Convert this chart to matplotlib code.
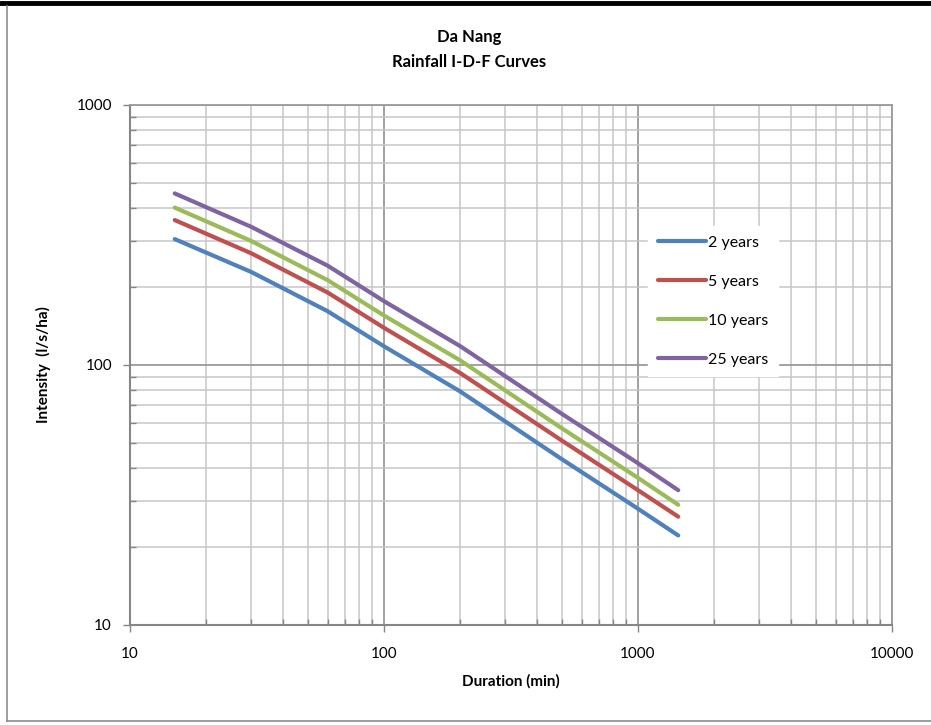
import matplotlib
matplotlib.use("Agg")
import matplotlib.pyplot as plt
from matplotlib.lines import Line2D
from matplotlib.ticker import LogLocator, FixedLocator, FixedFormatter, NullFormatter

plt.rcParams['font.family'] = ['Lato', 'DejaVu Sans']

durations = [15, 30, 60, 100, 200, 500, 1000, 1440]
series_names = ["2 years", "5 years", "10 years", "25 years"]
i_2yr = [305, 228, 161, 118, 79, 43.5, 28.0, 22.1]
i_5yr = [361, 269, 190, 139, 93, 51.3, 33.0, 26.1]
i_10yr = [403, 300, 212, 155, 104, 57.2, 36.8, 29.0]
i_25yr = [457, 340, 241, 176, 118, 65.0, 41.9, 33.0]
colors = ["#4F81BD", "#C0504D", "#9BBB59", "#8064A2"]

x_ticks = [10, 100, 1000, 10000]
x_ticklabels = ["10", "100", "1000", "10000"]
y_ticks = [10, 100, 1000]
y_ticklabels = ["10", "100", "1000"]

W, H = 931, 725
fig = plt.figure(figsize=(W / 100, H / 100), dpi=100)
ax = fig.add_axes([130 / W, 1 - 625 / H, (892 - 130) / W, (625 - 105) / H])

for vals, name, c in zip([i_2yr, i_5yr, i_10yr, i_25yr], series_names, colors):
    ax.plot(durations, vals, color=c, lw=3.0, label=name, solid_capstyle='round',
            solid_joinstyle='round', zorder=3)

ax.set_xscale('log')
ax.set_yscale('log')
ax.set_xlim(10, 10000)
ax.set_ylim(10, 1000)

ax.xaxis.set_major_locator(FixedLocator(x_ticks))
ax.xaxis.set_major_formatter(FixedFormatter(x_ticklabels))
ax.yaxis.set_major_locator(FixedLocator(y_ticks))
ax.yaxis.set_major_formatter(FixedFormatter(y_ticklabels))
ax.xaxis.set_minor_locator(LogLocator(base=10, subs=range(2, 10)))
ax.yaxis.set_minor_locator(LogLocator(base=10, subs=range(2, 10)))
ax.xaxis.set_minor_formatter(NullFormatter())
ax.yaxis.set_minor_formatter(NullFormatter())

ax.grid(True, which='major', color='#9a9a9a', lw=1.3, zorder=0)
ax.grid(True, which='minor', color='#c6c6c6', lw=1.1, zorder=0)
ax.set_axisbelow(True)

ax.tick_params(which='major', direction='out', length=5, width=1, color='#868686',
               labelsize=11, labelcolor='black')
ax.tick_params(which='minor', direction='in', length=4, width=1, color='#868686')
ax.tick_params(axis='x', which='major', pad=11)
ax.tick_params(axis='y', which='major', pad=8)

for s in ['left', 'bottom']:
    ax.spines[s].set_color('#868686')
    ax.spines[s].set_linewidth(1.5)
for s in ['top', 'right']:
    ax.spines[s].set_color('#9a9a9a')
    ax.spines[s].set_linewidth(1.3)

ax.set_xlabel("Duration (min)", fontsize=11, fontweight='bold', labelpad=9)
ax.set_ylabel("Intensity  (l/s/ha)", fontsize=11, fontweight='bold', labelpad=18)

fig.text(469 / W, 1 - 37 / H, "Da Nang", ha='center', va='center', fontsize=12, fontweight='bold')
fig.text(469 / W, 1 - 62 / H, "Rainfall I-D-F Curves", ha='center', va='center', fontsize=12, fontweight='bold')

leg = ax.legend(loc='upper left', bbox_to_anchor=((648 - 130) / (892 - 130), (625 - 226) / (625 - 105)),
                frameon=True, fancybox=False, edgecolor='white', facecolor='white', framealpha=1,
                fontsize=11.5, handlelength=3.0, handletextpad=0.15, labelspacing=1.55,
                borderpad=0.6, borderaxespad=0)
leg.set_zorder(5)

# outer frame
fig.add_artist(Line2D([0, 1], [1 - 2.5 / H, 1 - 2.5 / H], color='black', lw=3.5, transform=fig.transFigure))
fig.add_artist(Line2D([7 / W, 7 / W], [1 - 6 / H, 1 - 721 / H], color='#8c8c8c', lw=1.2, transform=fig.transFigure))
fig.add_artist(Line2D([7 / W, 1], [1 - 721 / H, 1 - 721 / H], color='#8c8c8c', lw=1.2, transform=fig.transFigure))

fig.savefig("out.png", dpi=100)
